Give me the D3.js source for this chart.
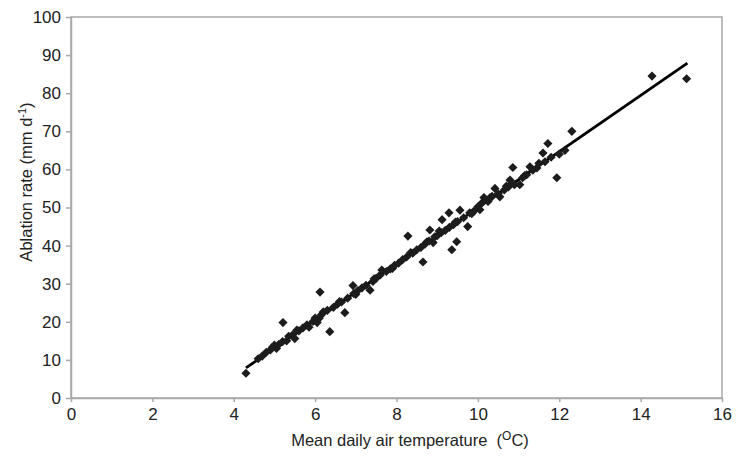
<!DOCTYPE html>
<html>
<head>
<meta charset="utf-8">
<script src="https://cdn.jsdelivr.net/npm/d3@7"></script>
<style>
  body { margin: 0; background: #fff; }
  svg { display: block; font-family: "Liberation Sans", Arial, sans-serif; }
  .axis text { font-size: 17px; fill: #222; font-family: "Liberation Sans", Arial, sans-serif; }
  .axis path, .axis line { stroke: #a8a8a8; stroke-width: 1.5; }
  .label { font-size: 16.5px; fill: #222; }
</style>
</head>
<body>
<svg id="chart" width="736" height="463"></svg>
<script>
var temp = [4.3, 4.6, 4.7, 4.8, 4.9, 4.95, 5.05, 5.1, 5.2, 5.21, 5.3, 5.35, 5.45, 5.5, 5.6, 5.7, 5.8, 5.85, 5.95, 6.0,
            6.05, 6.12, 6.15, 6.2, 6.3, 6.36, 6.45, 6.55, 6.65, 6.73, 6.8, 6.93, 6.95, 7.05, 7.15, 7.25, 7.35, 7.42, 7.5, 7.6,
            7.64, 7.75, 7.85, 7.95, 8.05, 8.15, 8.25, 8.28, 8.4, 8.5, 8.6, 8.65, 8.7, 8.8, 8.82, 8.9, 8.94, 9.0, 9.1, 9.12,
            9.2, 9.29, 9.3, 9.36, 9.4, 9.48, 9.5, 9.56, 9.65, 9.75, 9.8, 9.9, 10.0, 10.05, 10.1, 10.15, 10.25, 10.35, 10.42, 10.5,
            10.54, 10.65, 10.75, 10.79, 10.86, 10.9, 11.03, 11.1, 11.2, 11.28, 11.35, 11.45, 11.6, 11.65, 11.72, 11.8, 11.94, 12.0, 12.14, 12.31,
            14.28, 15.13,
            5.0, 5.55, 6.1, 6.6, 7.0, 7.45, 7.9, 8.35, 8.75, 9.05, 9.45, 9.85, 10.3, 10.7, 11.15, 11.5];
var ablation = [6.5, 10.3, 11.0, 12.0, 12.6, 13.3, 13.0, 14.0, 14.8, 19.8, 15.0, 16.2, 16.6, 15.6, 17.6, 18.4, 19.2, 18.6, 20.1, 21.0,
                19.8, 27.8, 21.8, 22.6, 23.0, 17.4, 23.8, 24.6, 25.2, 22.4, 26.2, 29.5, 27.4, 28.2, 28.9, 29.6, 28.3, 30.6, 31.4, 32.3,
                33.6, 33.2, 33.9, 34.8, 35.4, 36.3, 37.0, 42.5, 38.0, 38.9, 39.5, 35.7, 40.4, 41.2, 44.1, 40.8, 42.3, 42.6, 43.4, 46.8,
                44.0, 48.6, 44.8, 38.9, 45.5, 41.0, 46.3, 49.3, 47.3, 45.0, 48.6, 49.0, 50.2, 49.4, 51.2, 52.6, 51.6, 52.9, 55.0, 53.6,
                52.8, 54.6, 55.4, 57.2, 60.5, 56.0, 56.0, 57.8, 58.6, 60.7, 59.8, 60.4, 64.3, 62.0, 66.8, 63.2, 57.8, 64.0, 65.0, 70.0,
                84.5, 83.8,
                13.9, 17.8, 20.9, 25.3, 27.2, 31.3, 34.0, 38.2, 41.0, 43.8, 46.2, 48.4, 52.6, 55.6, 58.4, 61.6];

// fitted line ends
var trendX = [4.3, 15.15];
var trendY = [7.9, 87.9];

var xTicks = [0, 2, 4, 6, 8, 10, 12, 14, 16];
var yTicks = [0, 10, 20, 30, 40, 50, 60, 70, 80, 90, 100];

var svg = d3.select("#chart");

var x = d3.scaleLinear().domain([0, 16]).range([71, 722]);
var y = d3.scaleLinear().domain([0, 100]).range([398, 17]);

// plot frame
svg.append("rect")
    .attr("x", x(0))
    .attr("y", y(100))
    .attr("width", x(16) - x(0))
    .attr("height", y(0) - y(100))
    .attr("fill", "none")
    .attr("stroke", "#a8a8a8")
    .attr("stroke-width", 1.5);

svg.append("g")
    .attr("class", "axis")
    .attr("transform", "translate(0," + y(0) + ")")
    .call(d3.axisBottom(x).tickValues(xTicks).tickSize(4).tickPadding(6).tickSizeOuter(0));

svg.append("g")
    .attr("class", "axis")
    .attr("transform", "translate(" + x(0) + ",0)")
    .call(d3.axisLeft(y).tickValues(yTicks).tickSize(5).tickPadding(5).tickSizeOuter(0));

// regression line
var line = d3.line()
    .x(function(d) { return x(d[0]); })
    .y(function(d) { return y(d[1]); });

svg.append("path")
    .datum(d3.zip(trendX, trendY))
    .attr("d", line)
    .attr("fill", "none")
    .attr("stroke", "#000")
    .attr("stroke-width", 2.8);

// diamond markers (square turned 45 degrees)
var diamond = d3.symbol().type(d3.symbolSquare).size(42);

svg.append("g")
    .selectAll("path")
    .data(d3.zip(temp, ablation))
    .join("path")
    .attr("d", diamond)
    .attr("transform", function(d) { return "translate(" + x(d[0]) + "," + y(d[1]) + ") rotate(45)"; })
    .attr("fill", "#1c1c1c");

// axis titles
var xt = svg.append("text")
    .attr("class", "label")
    .attr("x", 410)
    .attr("y", 446)
    .attr("text-anchor", "middle");
xt.append("tspan").text("Mean daily air temperature\u00a0\u00a0(");
xt.append("tspan").attr("dy", -6).attr("font-size", "12px").text("O");
xt.append("tspan").attr("dy", 6).text("C)");

var yt = svg.append("text")
    .attr("class", "label")
    .attr("transform", "translate(32,182) rotate(-90)")
    .attr("text-anchor", "middle");
yt.append("tspan").text("Ablation rate (mm d");
yt.append("tspan").attr("dy", -6).attr("font-size", "11px").text("-1");
yt.append("tspan").attr("dy", 6).text(")");
</script>
</body>
</html>
